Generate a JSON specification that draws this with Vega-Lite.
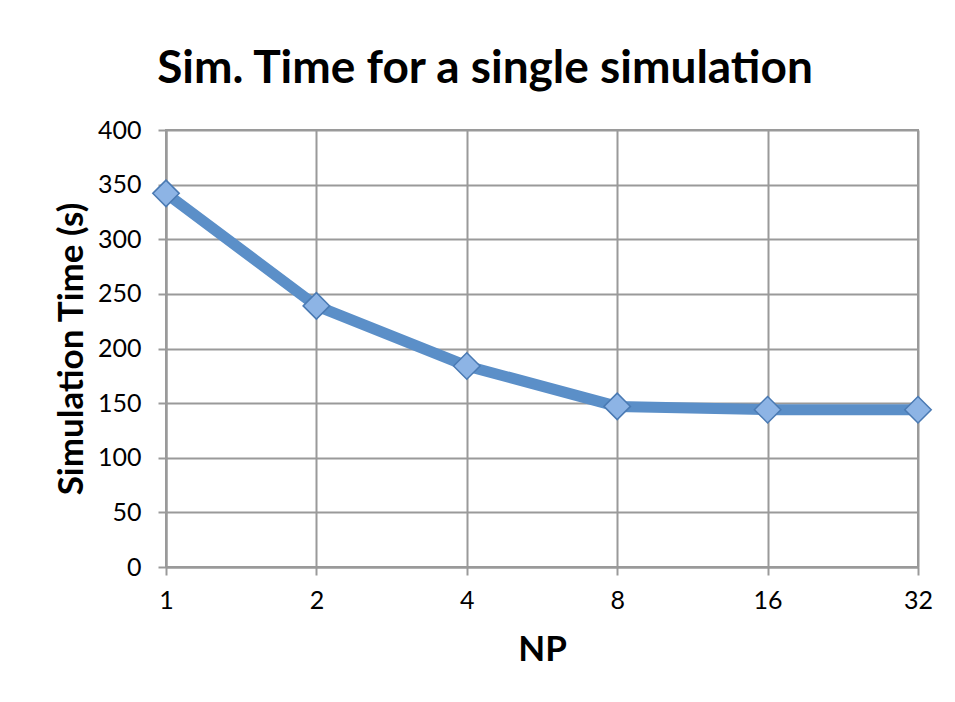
{
  "$schema": "https://vega.github.io/schema/vega-lite/v6.json",
  "width": 752,
  "height": 437,
  "autosize": {"type": "none"},
  "padding": {"left": 166, "top": 130, "right": 37, "bottom": 135},
  "background": "white",
  "title": {
    "text": "Sim. Time for a single simulation",
    "font": "Lato",
    "fontSize": 46,
    "fontWeight": "bold",
    "color": "#000000",
    "anchor": "middle",
    "dx": -57,
    "offset": 25
  },
  "data": {
    "values": [
      {"NP": "1", "time": 342},
      {"NP": "2", "time": 239},
      {"NP": "4", "time": 184},
      {"NP": "8", "time": 147},
      {"NP": "16", "time": 144},
      {"NP": "32", "time": 144}
    ]
  },
  "config": {
    "view": {"stroke": "#9a9a9a", "strokeWidth": 2},
    "axis": {
      "labelFont": "Lato",
      "titleFont": "Lato",
      "labelFontSize": 25,
      "titleFontSize": 35,
      "titleFontWeight": "bold",
      "labelColor": "#000000",
      "titleColor": "#000000",
      "gridColor": "#9a9a9a",
      "gridWidth": 2,
      "gridOpacity": 1,
      "domainColor": "#9a9a9a",
      "domainWidth": 2,
      "tickColor": "#9a9a9a",
      "tickWidth": 2,
      "tickSize": 8
    }
  },
  "encoding": {
    "x": {
      "field": "NP",
      "type": "ordinal",
      "sort": ["1", "2", "4", "8", "16", "32"],
      "scale": {"type": "point", "padding": 0},
      "axis": {"labelAngle": 0, "labelPadding": 13, "title": "NP", "titlePadding": 19, "grid": true}
    },
    "y": {
      "field": "time",
      "type": "quantitative",
      "scale": {"domain": [0, 400]},
      "axis": {"values": [0, 50, 100, 150, 200, 250, 300, 350, 400], "labelPadding": 17, "title": "Simulation Time (s)", "titlePadding": 8, "grid": true}
    }
  },
  "layer": [
    {"mark": {"type": "line", "color": "#5b8fc8", "strokeWidth": 11}},
    {"mark": {"type": "point", "shape": "diamond", "size": 700, "filled": true, "fill": "#8db4e5", "stroke": "#4a7ab3", "strokeWidth": 1.5, "opacity": 1}}
  ]
}
